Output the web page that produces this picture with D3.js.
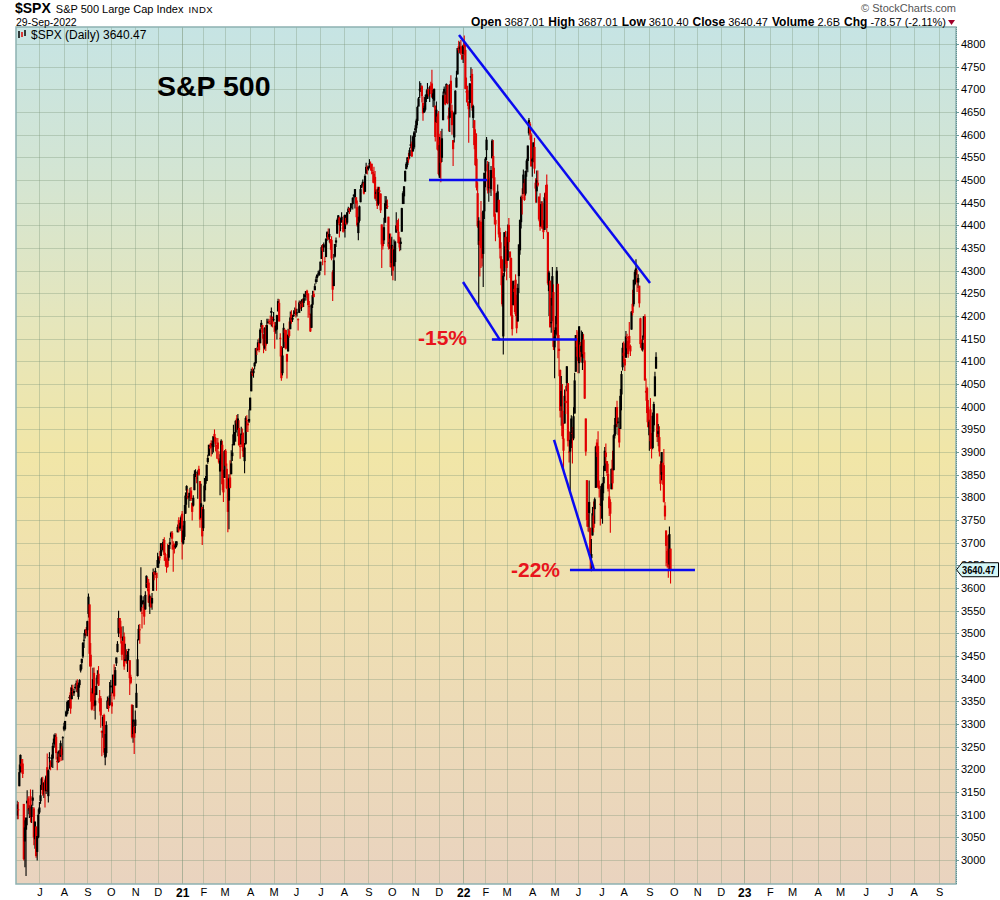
<!DOCTYPE html>
<meta charset="utf-8">
<style>

body {
    margin: 0;
    background: #fff;
    font-family: "Liberation Sans", Arial, sans-serif;
}

.axis text {
    font: 11px "Liberation Sans", Arial, sans-serif;
    fill: #000;
}

.axis line {
    stroke: #6f9c9c;
    shape-rendering: crispEdges;
}

.axis path {
    display: none;
}

.grid line {
    stroke: #7c9478;
    stroke-opacity: 0.35;
    shape-rendering: crispEdges;
}

.grid path {
    stroke-width: 0;
}

.grid .year line {
    stroke-opacity: 0.55;
}

.blue {
    stroke: #0a0af0;
    stroke-width: 2.5;
    fill: none;
}

.pct {
    font: bold 21px "Liberation Sans", Arial, sans-serif;
    fill: #e8141c;
}

</style>
<body>
<script src="https://cdn.jsdelivr.net/npm/d3@7"></script>
<script>

// daily candles [open, high, low, close], 3-Jun-2020 .. 29-Sep-2022
var bars = [
    // Jun 2020
    [3098,3131,3090,3123],[3112,3128,3090,3112],[3163,3211,3163,3194],[3199,3233,3193,3232],[3213,3223,3193,3207],[3213,3223,3181,3190],[3124,3124,2999,3002],[3072,3088,2984,3041],[3094,3079,2965,3067],[3131,3154,3077,3125],
    [3136,3141,3109,3113],[3101,3121,3093,3115],[3141,3156,3083,3098],[3095,3122,3082,3118],[3138,3155,3120,3131],[3114,3117,3033,3050],[3046,3086,3025,3084],[3074,3074,3005,3009],[3018,3053,2999,3053],[3050,3112,3048,3100],
    // Jul 2020
    [3105,3128,3101,3116],[3143,3166,3124,3130],[3155,3183,3155,3180],[3166,3184,3142,3145],[3154,3172,3137,3170],[3176,3180,3116,3152],[3152,3187,3146,3185],[3205,3235,3150,3155],[3141,3200,3127,3198],[3225,3238,3200,3227],
    [3209,3220,3198,3216],[3224,3233,3205,3225],[3224,3259,3203,3252],[3268,3277,3247,3257],[3255,3280,3249,3276],[3272,3279,3222,3236],[3219,3228,3198,3216],[3219,3242,3215,3239],[3235,3243,3216,3218],[3228,3264,3228,3258],
    [3232,3251,3219,3246],[3270,3273,3220,3271],
    // Aug 2020
    [3288,3303,3284,3295],[3289,3307,3286,3307],[3317,3330,3317,3328],[3323,3352,3321,3349],[3340,3353,3329,3351],[3357,3364,3335,3360],[3370,3381,3323,3334],[3355,3387,3355,3380],[3373,3387,3363,3373],[3368,3378,3362,3373],
    [3380,3388,3377,3382],[3387,3396,3371,3390],[3392,3399,3369,3375],[3360,3391,3354,3386],[3386,3399,3380,3397],[3418,3432,3414,3431],[3435,3444,3421,3444],[3449,3481,3445,3479],[3486,3501,3468,3485],[3495,3510,3489,3508],
    [3509,3514,3494,3500],
    // Sep 2020
    [3507,3528,3494,3527],[3543,3588,3535,3581],[3564,3564,3427,3455],[3453,3479,3349,3427],[3371,3379,3330,3332],[3369,3424,3367,3399],[3413,3425,3329,3339],[3352,3368,3310,3341],[3364,3402,3364,3384],[3408,3419,3389,3401],
    [3411,3428,3384,3385],[3346,3375,3328,3357],[3357,3362,3292,3319],[3285,3286,3229,3281],[3296,3320,3270,3316],[3320,3323,3232,3237],[3226,3278,3209,3247],[3236,3306,3228,3298],[3334,3361,3334,3352],[3350,3358,3327,3335],
    [3342,3393,3340,3363],
    // Oct 2020
    [3385,3397,3362,3381],[3339,3370,3323,3348],[3368,3409,3368,3409],[3408,3432,3354,3361],[3385,3426,3385,3419],[3434,3447,3428,3447],[3459,3483,3458,3477],[3500,3550,3492,3534],[3534,3534,3500,3512],[3515,3528,3478,3489],
    [3453,3489,3441,3483],[3493,3516,3483,3484],[3493,3502,3420,3427],[3439,3477,3439,3443],[3439,3465,3433,3436],[3439,3461,3415,3453],[3464,3466,3441,3465],[3441,3441,3364,3401],[3404,3409,3388,3391],[3343,3343,3268,3271],
    [3278,3342,3259,3310],[3294,3305,3234,3270],
    // Nov 2020
    [3296,3330,3280,3310],[3336,3389,3336,3369],[3406,3487,3405,3443],[3485,3519,3485,3510],[3508,3521,3477,3509],[3584,3646,3547,3550],[3544,3558,3511,3546],[3564,3582,3557,3573],[3563,3569,3519,3537],[3553,3593,3552,3585],
    [3601,3628,3600,3627],[3611,3624,3593,3610],[3612,3620,3567,3568],[3559,3586,3543,3582],[3579,3582,3556,3558],[3566,3589,3552,3578],[3594,3643,3594,3635],[3635,3637,3617,3630],[3638,3645,3629,3638],[3634,3634,3594,3622],
    // Dec 2020
    [3645,3678,3645,3662],[3654,3670,3645,3669],[3669,3682,3661,3667],[3671,3699,3670,3699],[3694,3698,3684,3692],[3683,3708,3679,3702],[3706,3712,3660,3673],[3660,3678,3647,3668],[3656,3665,3634,3663],[3675,3698,3645,3647],
    [3667,3695,3660,3695],[3696,3711,3686,3701],[3713,3725,3710,3722],[3722,3726,3685,3709],[3685,3703,3636,3695],[3698,3698,3676,3687],[3694,3703,3687,3690],[3694,3703,3690,3703],[3723,3740,3723,3735],[3750,3756,3723,3727],
    [3736,3744,3730,3732],[3734,3760,3726,3756],
    // Jan 2021
    [3764,3770,3663,3701],[3698,3738,3696,3727],[3713,3783,3706,3748],[3764,3811,3764,3804],[3815,3827,3784,3825],[3803,3818,3796,3800],[3802,3810,3777,3801],[3802,3821,3792,3810],[3815,3823,3792,3796],[3788,3789,3749,3768],
    [3782,3805,3780,3799],[3816,3860,3816,3852],[3857,3862,3845,3853],[3844,3852,3831,3841],[3851,3860,3797,3855],[3863,3870,3848,3850],[3836,3836,3733,3751],[3755,3830,3755,3787],[3779,3779,3695,3714],
    // Feb 2021
    [3732,3784,3726,3774],[3791,3843,3791,3826],[3840,3847,3816,3830],[3836,3872,3836,3872],[3878,3894,3874,3887],[3892,3916,3892,3916],[3910,3919,3906,3911],[3920,3926,3890,3910],[3917,3925,3895,3916],[3911,3935,3899,3935],
    [3940,3950,3923,3933],[3918,3933,3901,3931],[3916,3916,3885,3914],[3921,3931,3884,3907],[3886,3902,3874,3877],[3857,3895,3805,3881],[3873,3928,3859,3925],[3916,3925,3816,3829],[3840,3861,3790,3811],
    // Mar 2021
    [3843,3904,3843,3902],[3903,3907,3868,3870],[3863,3875,3818,3820],[3818,3844,3723,3768],[3793,3851,3730,3842],[3844,3882,3820,3821],[3851,3904,3851,3875],[3891,3918,3880,3899],[3915,3960,3915,3939],[3924,3944,3915,3943],
    [3943,3970,3923,3969],[3974,3982,3950,3963],[3949,3984,3935,3974],[3953,3970,3914,3915],[3913,3920,3885,3913],[3917,3956,3917,3941],[3938,3952,3902,3911],[3919,3943,3889,3889],[3880,3920,3853,3910],[3918,3979,3916,3975],
    [3969,3981,3944,3971],[3963,3968,3944,3959],[3967,3994,3964,3973],
    // Apr 2021
    [3992,4020,3992,4020],[4034,4084,4034,4078],[4075,4087,4068,4074],[4074,4084,4064,4080],[4089,4098,4082,4097],[4096,4129,4095,4129],[4124,4131,4114,4128],[4131,4148,4124,4142],[4141,4151,4120,4125],[4140,4173,4140,4170],
    [4175,4191,4171,4185],[4180,4180,4150,4163],[4159,4160,4118,4135],[4129,4175,4126,4173],[4171,4180,4123,4135],[4139,4194,4139,4180],[4185,4194,4183,4188],[4189,4193,4182,4187],[4185,4201,4181,4183],[4207,4219,4177,4211],
    [4198,4199,4175,4181],
    // May 2021
    [4192,4209,4188,4193],[4180,4187,4128,4165],[4178,4187,4161,4168],[4170,4203,4148,4202],[4211,4238,4209,4233],[4229,4237,4188,4188],[4150,4162,4111,4152],[4131,4134,4057,4063],[4074,4131,4069,4113],[4130,4184,4130,4174],
    [4169,4172,4143,4163],[4169,4170,4126,4128],[4099,4117,4062,4116],[4122,4172,4122,4159],[4168,4188,4152,4156],[4171,4210,4171,4197],[4205,4213,4183,4188],[4192,4202,4187,4196],[4202,4213,4198,4201],[4210,4219,4204,4204],
    // Jun 2021
    [4216,4234,4197,4202],[4207,4216,4199,4208],[4191,4195,4168,4193],[4207,4234,4207,4230],[4229,4233,4215,4227],[4234,4237,4211,4227],[4232,4238,4219,4220],[4229,4249,4220,4239],[4242,4249,4233,4247],[4248,4255,4234,4255],
    [4256,4258,4240,4247],[4249,4251,4196,4224],[4220,4233,4203,4222],[4205,4205,4165,4166],[4174,4226,4174,4225],[4225,4256,4218,4246],[4249,4256,4241,4242],[4257,4272,4257,4266],[4275,4287,4271,4281],[4284,4292,4275,4291],
    [4294,4300,4287,4292],[4291,4302,4289,4298],
    // Jul 2021
    [4300,4320,4300,4320],[4326,4356,4326,4352],[4356,4359,4312,4344],[4351,4362,4341,4358],[4321,4331,4290,4321],[4330,4372,4330,4370],[4373,4387,4366,4385],[4381,4393,4368,4369],[4381,4393,4362,4374],[4369,4370,4346,4360],
    [4368,4376,4323,4327],[4297,4301,4233,4258],[4266,4337,4266,4323],[4331,4359,4329,4359],[4362,4373,4352,4367],[4382,4415,4381,4412],[4410,4423,4405,4422],[4417,4419,4373,4401],[4402,4416,4387,4401],[4407,4429,4406,4419],
    [4395,4412,4385,4395],
    // Aug 2021
    [4406,4422,4384,4387],[4392,4424,4373,4423],[4416,4417,4400,4403],[4406,4429,4402,4429],[4429,4441,4429,4437],[4438,4439,4425,4432],[4436,4449,4430,4437],[4446,4449,4437,4448],[4447,4462,4435,4461],[4464,4468,4460,4468],
    [4462,4480,4437,4480],[4462,4462,4418,4448],[4440,4455,4397,4400],[4383,4419,4367,4406],[4410,4444,4406,4442],[4451,4489,4451,4480],[4485,4492,4482,4486],[4490,4501,4486,4496],[4493,4495,4468,4470],[4474,4513,4474,4509],
    [4514,4538,4514,4529],[4529,4532,4512,4523],
    // Sep 2021
    [4529,4532,4521,4524],[4534,4546,4527,4537],[4532,4541,4521,4535],[4536,4536,4513,4520],[4518,4522,4494,4514],[4514,4529,4493,4493],[4507,4520,4457,4459],[4474,4479,4454,4469],[4479,4485,4436,4443],[4447,4485,4444,4481],
    [4477,4485,4448,4474],[4470,4471,4427,4433],[4402,4402,4306,4358],[4375,4394,4347,4354],[4367,4417,4359,4396],[4406,4465,4406,4449],[4438,4464,4436,4455],[4443,4457,4436,4443],[4419,4419,4347,4353],[4363,4382,4348,4359],
    [4371,4382,4307,4308],
    // Oct 2021
    [4317,4375,4289,4357],[4348,4355,4279,4300],[4310,4369,4309,4346],[4319,4366,4278,4364],[4384,4429,4384,4400],[4406,4412,4387,4391],[4386,4415,4360,4361],[4368,4375,4343,4351],[4359,4373,4345,4364],[4386,4439,4386,4438],
    [4447,4475,4447,4471],[4464,4487,4447,4486],[4497,4521,4497,4520],[4524,4540,4524,4536],[4533,4550,4528,4550],[4546,4560,4538,4545],[4553,4572,4547,4566],[4579,4599,4570,4575],[4580,4585,4551,4552],[4563,4598,4563,4596],
    [4572,4608,4568,4605],
    // Nov 2021
    [4610,4621,4595,4614],[4614,4635,4604,4631],[4630,4664,4621,4661],[4662,4683,4662,4680],[4700,4718,4681,4698],[4701,4714,4694,4702],[4707,4709,4671,4685],[4670,4684,4631,4647],[4659,4664,4648,4649],[4655,4688,4651,4683],
    [4689,4698,4672,4683],[4679,4714,4679,4701],[4701,4701,4684,4689],[4700,4708,4672,4705],[4708,4717,4690,4698],[4713,4743,4681,4683],[4679,4699,4661,4691],[4675,4702,4660,4701],[4664,4664,4585,4595],[4628,4673,4626,4655],
    [4640,4647,4565,4567],
    // Dec 2021
    [4602,4652,4510,4513],[4505,4595,4505,4577],[4589,4608,4495,4538],[4549,4613,4540,4592],[4632,4695,4632,4687],[4691,4706,4667,4701],[4687,4695,4665,4667],[4688,4713,4670,4712],[4710,4710,4667,4669],[4642,4660,4607,4634],
    [4637,4712,4606,4710],[4719,4731,4651,4669],[4653,4666,4600,4621],[4588,4588,4531,4568],[4594,4651,4583,4649],[4645,4698,4645,4697],[4704,4741,4704,4726],[4733,4791,4733,4791],[4795,4807,4780,4786],[4789,4805,4779,4793],
    [4795,4809,4776,4779],[4776,4787,4765,4766],
    // Jan 2022
    [4778,4797,4758,4797],[4804,4819,4775,4794],[4787,4798,4700,4701],[4693,4726,4671,4696],[4698,4708,4663,4677],[4656,4674,4582,4670],[4670,4714,4638,4713],[4729,4749,4718,4726],[4734,4745,4653,4659],[4637,4666,4615,4663],
    [4632,4632,4568,4577],[4588,4612,4531,4533],[4547,4603,4477,4483],[4471,4495,4395,4398],[4357,4418,4223,4410],[4366,4411,4287,4356],[4408,4454,4306,4350],[4380,4429,4309,4327],[4337,4433,4264,4432],[4431,4516,4414,4516],
    // Feb 2022
    [4519,4551,4484,4547],[4566,4595,4544,4589],[4535,4542,4470,4477],[4482,4540,4452,4501],[4505,4522,4472,4484],[4480,4531,4465,4522],[4548,4590,4548,4587],[4553,4588,4477,4504],[4506,4527,4402,4419],[4412,4426,4365,4402],
    [4429,4472,4429,4471],[4455,4490,4429,4475],[4456,4457,4373,4380],[4385,4395,4327,4349],[4332,4363,4268,4305],[4324,4326,4221,4226],[4155,4295,4115,4289],[4298,4385,4287,4385],[4354,4388,4315,4374],
    // Mar 2022
    [4364,4375,4279,4306],[4322,4402,4322,4387],[4401,4416,4345,4363],[4342,4343,4284,4329],[4328,4329,4199,4201],[4202,4277,4157,4171],[4224,4277,4224,4278],[4253,4268,4209,4260],[4280,4292,4200,4204],[4203,4247,4162,4173],
    [4188,4271,4188,4262],[4288,4358,4251,4358],[4345,4413,4335,4412],[4407,4466,4393,4463],[4462,4482,4424,4461],[4469,4523,4469,4512],[4493,4502,4454,4456],[4470,4521,4466,4520],[4523,4547,4507,4543],[4542,4576,4517,4576],
    [4603,4637,4598,4632],[4624,4628,4589,4602],[4600,4603,4530,4530],
    // Apr 2022
    [4541,4549,4507,4546],[4547,4583,4539,4583],[4573,4593,4514,4525],[4494,4504,4450,4481],[4475,4521,4450,4500],[4494,4521,4485,4488],[4463,4464,4409,4413],[4437,4471,4388,4397],[4398,4453,4397,4447],[4449,4453,4392,4393],
    [4385,4411,4370,4392],[4390,4471,4390,4462],[4473,4489,4455,4459],[4490,4512,4385,4394],[4385,4386,4268,4272],[4255,4300,4200,4296],[4278,4278,4175,4175],[4187,4240,4163,4184],[4223,4308,4188,4288],[4253,4270,4125,4132],
    // May 2022
    [4131,4169,4063,4155],[4160,4200,4147,4175],[4182,4308,4157,4300],[4271,4271,4107,4147],[4128,4158,4067,4123],[4081,4082,3976,3991],[4035,4068,3958,4001],[3991,4050,3929,3935],[3903,3964,3859,3930],[3963,4038,3963,4024],
    [4013,4046,3984,4008],[4052,4090,4034,4089],[4052,4052,3912,3924],[3900,3946,3877,3901],[3927,3944,3810,3901],[3919,3981,3909,3974],[3942,3955,3875,3941],[3930,3999,3926,3979],[3985,4075,3985,4058],[4077,4158,4077,4158],
    [4151,4169,4110,4132],
    // Jun 2022
    [4149,4166,4074,4101],[4096,4178,4074,4177],[4137,4143,4098,4109],[4134,4168,4110,4121],[4097,4165,4081,4161],[4148,4160,4107,4116],[4102,4120,4017,4018],[3974,3974,3892,3901],[3838,3838,3735,3750],[3763,3779,3725,3735],
    [3765,3837,3723,3790],[3733,3733,3640,3667],[3666,3708,3637,3675],[3716,3779,3716,3765],[3733,3791,3723,3760],[3774,3800,3742,3796],[3821,3914,3821,3912],[3921,3928,3889,3900],[3913,3946,3820,3822],[3826,3837,3800,3819],
    [3786,3818,3738,3785],
    // Jul 2022
    [3781,3829,3753,3825],[3793,3832,3742,3831],[3831,3870,3809,3845],[3858,3911,3858,3903],[3889,3919,3875,3899],[3880,3880,3847,3854],[3852,3874,3813,3819],[3776,3829,3759,3802],[3764,3796,3722,3790],[3818,3864,3818,3863],
    [3883,3903,3818,3831],[3860,3939,3860,3937],[3936,3975,3930,3960],[3955,3999,3939,3999],[3999,4013,3955,3962],[3965,3976,3937,3967],[3953,3953,3910,3921],[3951,4039,3951,4024],[4027,4079,3992,4072],[4087,4141,4080,4130],
    // Aug 2022
    [4112,4144,4097,4119],[4105,4140,4079,4091],[4108,4167,4108,4155],[4154,4161,4129,4152],[4116,4152,4108,4145],[4156,4187,4127,4140],[4134,4137,4112,4122],[4170,4211,4170,4210],[4227,4258,4201,4207],[4226,4280,4221,4280],
    [4270,4302,4268,4297],[4291,4325,4277,4305],[4281,4302,4253,4274],[4274,4292,4262,4284],[4267,4267,4219,4228],[4195,4196,4130,4138],[4134,4149,4124,4129],[4126,4157,4122,4141],[4153,4200,4147,4199],[4199,4204,4057,4058],
    [4035,4062,4013,4031],[4041,4044,3966,3986],[4000,4015,3954,3955],
    // Sep 2022
    [3937,3971,3903,3967],[3994,4019,3907,3924],[3930,3942,3886,3908],[3909,3987,3906,3980],[3959,4011,3945,4006],[4023,4077,4023,4067],[4084,4120,4084,4110],[3985,3985,3922,3933],[3940,3962,3913,3946],[3933,3957,3890,3901],
    [3830,3880,3815,3873],[3850,3900,3838,3900],[3876,3877,3828,3856],[3871,3907,3789,3790],[3782,3790,3750,3758],[3727,3727,3648,3693],[3682,3716,3645,3655],[3687,3717,3623,3647],[3652,3736,3640,3719],[3687,3687,3610,3640]
];

// month labels on the date axis and the trading-day index where each month starts
var monthLabels = ["J","A","S","O","N","D",
    "21","F","M","A","M","J","J","A","S","O","N","D",
    "22","F","M","A","M","J","J","A","S","O","N","D",
    "23","F","M","A","M","J","J","A","S"];
var monthIndex = [20,42,63,84,106,126,
    148,167,186,209,230,250,272,293,315,336,357,378,
    400,420,439,462,482,503,524,544,567,589,610,631,
    652,675,695,718,738,761,783,804,827];

var priceTicks = [3000,3050,3100,3150,3200,3250,3300,3350,3400,3450,3500,3550,3600,3650,3700,3750,3800,3850,3900,3950,
    4000,4050,4100,4150,4200,4250,4300,4350,4400,4450,4500,4550,4600,4650,4700,4750,4800];

// hand-drawn blue lines: [dayIndex1, price1, dayIndex2, price2]
var blueLines = [
    [396.3, 4820, 567.6, 4273],
    [399.9, 4275, 433.1, 4147],
    [369.4, 4500, 421.4, 4500],
    [425.8, 4148, 502.1, 4148],
    [481.5, 3927, 517.4, 3640],
    [495.8, 3640, 607.9, 3640]
];
var pctText = ["-15%", "-22%"];
var pctIndex = [359.5, 442.9];
var pctPrice = [4136, 3624];

var lastClose = "3640.47";

var plot = {left: 16, right: 956, top: 27, bottom: 884};

var svg = d3.select("body").append("svg")
    .attr("width", 1000)
    .attr("height", 900);

var x = d3.scaleLinear()
    .domain([-1, 842])
    .range([plot.left, plot.right]);

var y = d3.scaleLinear()
    .domain([2947.3, 4837.5])
    .range([plot.bottom, plot.top]);

// background gradient
var defs = svg.append("defs");
var grad = defs.append("linearGradient")
    .attr("id", "bg")
    .attr("x1", 0).attr("y1", 0).attr("x2", 0).attr("y2", 1);
[[0, "#c6e4e4"], [0.18, "#d4e5d2"], [0.35, "#e6e6bb"], [0.5, "#f1e6a7"], [0.68, "#efdfb2"], [1, "#e9d3bf"]]
    .forEach(function(s) {
        grad.append("stop").attr("offset", s[0]).attr("stop-color", s[1]);
    });

defs.append("clipPath").attr("id", "clip")
    .append("rect")
    .attr("x", plot.left).attr("y", plot.top)
    .attr("width", plot.right - plot.left)
    .attr("height", plot.bottom - plot.top);

svg.append("rect")
    .attr("x", plot.left).attr("y", plot.top)
    .attr("width", plot.right - plot.left)
    .attr("height", plot.bottom - plot.top)
    .attr("fill", "url(#bg)");

// gridlines
svg.append("g")
    .attr("class", "grid")
    .attr("transform", "translate(" + plot.left + ",0)")
    .call(d3.axisLeft(y)
        .tickValues(priceTicks)
        .tickSize(-(plot.right - plot.left))
        .tickFormat(""));

svg.append("g")
    .attr("class", "grid")
    .attr("transform", "translate(0," + plot.bottom + ")")
    .call(d3.axisBottom(x)
        .tickValues(monthIndex)
        .tickSize(-(plot.bottom - plot.top))
        .tickFormat(""))
    .selectAll(".tick")
    .classed("year", function(d, i) { return monthLabels[i].length == 2; });

// candles
var candles = svg.append("g").attr("clip-path", "url(#clip)");

bars.forEach(function(b, i) {
    var prev = i > 0 ? bars[i - 1][3] : b[0];
    var col = b[3] >= prev ? "#000" : "#e00000";
    var cx = x(i);
    candles.append("line")
        .attr("x1", cx).attr("x2", cx)
        .attr("y1", y(b[1])).attr("y2", y(b[2]))
        .attr("stroke", col)
        .attr("stroke-width", 1.1);
    var top = y(Math.max(b[0], b[3])),
        bot = y(Math.min(b[0], b[3]));
    candles.append("rect")
        .attr("x", cx - 1.1)
        .attr("y", top)
        .attr("width", 2.2)
        .attr("height", Math.max(1, bot - top))
        .attr("fill", col);
});

// blue annotation lines
svg.append("g").selectAll("line")
    .data(blueLines)
    .enter().append("line")
    .attr("class", "blue")
    .attr("x1", function(d) { return x(d[0]); })
    .attr("y1", function(d) { return y(d[1]); })
    .attr("x2", function(d) { return x(d[2]); })
    .attr("y2", function(d) { return y(d[3]); });

svg.append("g").selectAll("text")
    .data(pctText)
    .enter().append("text")
    .attr("class", "pct")
    .attr("x", function(d, i) { return x(pctIndex[i]); })
    .attr("y", function(d, i) { return y(pctPrice[i]); })
    .text(function(d) { return d; });

// title
svg.append("text")
    .attr("x", 157)
    .attr("y", 96)
    .style("font", "bold 28.5px 'Liberation Sans', Arial, sans-serif")
    .text("S&P 500");

// legend inside plot
var leg = svg.append("g");
[[19, 31, 38, "#000"], [22, 32, 37, "#e00000"], [25, 30, 36, "#000"]].forEach(function(p) {
    leg.append("line")
        .attr("x1", p[0]).attr("x2", p[0])
        .attr("y1", p[1]).attr("y2", p[2])
        .attr("stroke", p[3]).attr("stroke-width", 1.5);
});
leg.append("text")
    .attr("x", 31)
    .attr("y", 38.5)
    .style("font", "12px 'Liberation Sans', Arial, sans-serif")
    .text("$SPX (Daily) " + lastClose);

// plot border
svg.append("rect")
    .attr("x", plot.left).attr("y", plot.top)
    .attr("width", plot.right - plot.left)
    .attr("height", plot.bottom - plot.top)
    .attr("fill", "none")
    .attr("stroke", "#8db1b1")
    .attr("stroke-width", 1.5);

// right price axis
var yAxis = svg.append("g")
    .attr("class", "axis")
    .attr("transform", "translate(" + plot.right + ",0)")
    .call(d3.axisRight(y)
        .tickValues(priceTicks)
        .tickSize(3)
        .tickPadding(2)
        .tickFormat(d3.format("d")));

svg.append("line")
    .attr("x1", plot.right + 0.5).attr("x2", plot.right + 0.5)
    .attr("y1", plot.top).attr("y2", plot.bottom)
    .attr("stroke", "#5f9090")
    .attr("stroke-dasharray", "1,1");

// last price marker
var py = y(+lastClose);
svg.append("path")
    .attr("d", "M" + (plot.right + 0.5) + "," + py + " L" + (plot.right + 6) + "," + (py - 7) +
        " L998.5," + (py - 7) + " L998.5," + (py + 7) + " L" + (plot.right + 6) + "," + (py + 7) + " Z")
    .attr("fill", "#d4f6f6")
    .attr("stroke", "#000")
    .attr("stroke-width", 1);
svg.append("text")
    .attr("x", plot.right + 6)
    .attr("y", py + 4.5)
    .attr("textLength", 33.5)
    .attr("lengthAdjust", "spacingAndGlyphs")
    .style("font", "bold 11.5px 'Liberation Sans', Arial, sans-serif")
    .text(lastClose);

// bottom date axis
var xAxis = svg.append("g")
    .attr("class", "axis")
    .attr("transform", "translate(0," + plot.bottom + ")")
    .call(d3.axisBottom(x)
        .tickValues(monthIndex)
        .tickSize(0)
        .tickPadding(4)
        .tickFormat(function(d, i) { return monthLabels[i]; }));
xAxis.selectAll("text")
    .style("font-weight", function(d, i) { return monthLabels[i].length == 2 ? "bold" : "normal"; })
    .style("font-size", function(d, i) { return monthLabels[i].length == 2 ? "12px" : "11px"; });

// header
var head = svg.append("g");
var t1 = head.append("text").attr("x", 15).attr("y", 13);
t1.append("tspan").style("font", "bold 14px 'Liberation Sans', Arial, sans-serif").text("$SPX");
t1.append("tspan").attr("dx", 5).style("font", "11px 'Liberation Sans', Arial, sans-serif").text("S&P 500 Large Cap Index");
t1.append("tspan").attr("dx", 5).style("font", "9.5px 'Liberation Sans', Arial, sans-serif").style("letter-spacing", "0.5px").text("INDX");

head.append("text")
    .attr("x", 16).attr("y", 26)
    .style("font", "10.5px 'Liberation Sans', Arial, sans-serif")
    .text("29-Sep-2022");

head.append("text")
    .attr("x", 956).attr("y", 12)
    .attr("text-anchor", "end")
    .attr("fill", "#555")
    .style("font", "11px 'Liberation Sans', Arial, sans-serif")
    .text("\u00a9 StockCharts.com");

var quote = [["Open", "3687.01"], ["High", "3687.01"], ["Low", "3610.40"], ["Close", "3640.47"], ["Volume", "2.6B"], ["Chg", "-78.57 (-2.11%)"]];
var t2 = head.append("text").attr("x", 946).attr("y", 26).attr("text-anchor", "end");
quote.forEach(function(q, i) {
    t2.append("tspan").attr("dx", i == 0 ? 0 : 4)
        .style("font", "bold 12px 'Liberation Sans', Arial, sans-serif").text(q[0]);
    t2.append("tspan").attr("dx", 3)
        .style("font", "11px 'Liberation Sans', Arial, sans-serif").text(q[1]);
});
head.append("path")
    .attr("d", "M948,20 L955,20 L951.5,25 Z")
    .attr("fill", "#a0002a");

</script>
